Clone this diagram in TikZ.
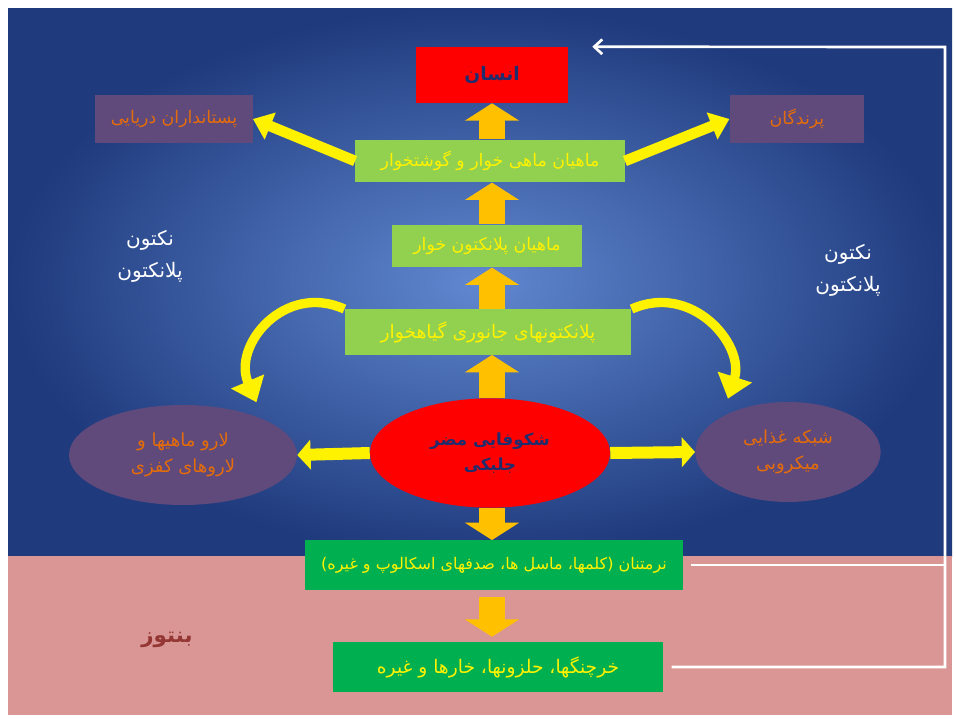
\documentclass[tikz,border=0pt]{standalone}
\usepackage{fontspec}
\usepackage{xcolor}
\usepackage{tikz}
\usetikzlibrary{shapes.geometric,arrows.meta}

\TeXXeTstate=1
\newfontfamily\farsi[Script=Arabic]{DejaVu Sans}
\newcommand{\fa}[1]{{\farsi\beginR #1\endR}}

\definecolor{navy}{HTML}{1F3A7D}
\definecolor{skyblue}{HTML}{6088D0}
\definecolor{rose}{HTML}{D99694}
\definecolor{plum}{HTML}{604A7B}
\definecolor{tangerine}{HTML}{E46C0A}
\definecolor{leaf}{HTML}{92D050}
\definecolor{grass}{HTML}{00B050}
\definecolor{amber}{HTML}{FFC000}
\definecolor{ink}{HTML}{1F2D6E}
\definecolor{brick}{HTML}{943634}

\tikzset{
	level/.style={rectangle, inner sep=0pt, fill=leaf, text=yellow, font=\fontsize{13}{15}\selectfont},
	benthic/.style={level, fill=grass},
	apex/.style={rectangle, inner sep=0pt, fill=red, text=ink, font=\bfseries\fontsize{14}{16}\selectfont},
	consumer/.style={rectangle, inner sep=0pt, fill=plum, text=tangerine, font=\fontsize{13}{15}\selectfont},
	blob/.style={ellipse, inner sep=0pt, fill=plum, text=tangerine, align=center, font=\fontsize{13.5}{20}\selectfont},
	note/.style={text=white, align=center, font=\fontsize{15}{24}\selectfont},
	uparrow/.style={draw=amber, line width=20pt, -{Triangle[length=13pt,width=40pt]}},
	sidearrow/.style={draw=yellow, line width=8pt, -{Triangle[length=14pt,width=21pt]}},
	wideside/.style={draw=yellow, line width=9pt, -{Triangle[length=10pt,width=22pt]}},
	curvearrow/.style={draw=yellow, line width=7pt, -{Triangle[length=17pt,width=26pt]}, shorten >=14pt},
	backline/.style={draw=white, line width=2pt, shorten <=6pt}
}

\begin{document}
\begin{tikzpicture}[x=0.75pt,y=-0.75pt]
	% background: water column and sea floor
	\fill[white] (0,0) rectangle (956,721);
	\shade[inner color=skyblue, outer color=navy] (8,8) rectangle (952,556);
	\fill[rose] (8,556) rectangle (952,715);

	% food chain
	\node[apex, minimum width=114pt, minimum height=42pt] (ensan) at (492,75) {\fa{انسان}};
	\node[consumer, minimum width=118pt, minimum height=36pt] (mammal) at (174,119) {\fa{پستانداران دریایی}};
	\node[consumer, minimum width=101pt, minimum height=36pt] (bird) at (797,119) {\fa{پرندگان}};
	\node[level, minimum width=202pt, minimum height=32pt] (carniv) at (490,161) {\fa{ماهیان ماهی خوار و گوشتخوار}};
	\node[level, minimum width=142pt, minimum height=32pt] (planktiv) at (487,246) {\fa{ماهیان پلانکتون خوار}};
	\node[level, minimum width=215pt, minimum height=34pt, font=\fontsize{14}{16}\selectfont] (zoo) at (488,332) {\fa{پلانکتونهای جانوری گیاهخوار}};
	\node[ellipse, inner sep=0pt, fill=red, text=ink, align=center, font=\bfseries\fontsize{12.5}{19}\selectfont,
		minimum width=180pt, minimum height=82pt] (bloom) at (490,453) {\fa{شکوفایی مضر}\\\fa{جلبکی}};
	\node[blob, minimum width=171pt, minimum height=75pt] (larva) at (183,455) {\fa{لارو ماهیها و}\\\fa{لاروهای کفزی}};
	\node[blob, minimum width=139pt, minimum height=75pt] (microbe) at (788,452) {\fa{شبکه غذایی}\\\fa{میکروبی}};
	\node[benthic, minimum width=283pt, minimum height=37pt, font=\fontsize{12}{14}\selectfont] (mollusc) at (494,565) {\fa{نرمتنان (کلمها، ماسل ها، صدفهای اسکالوپ و غیره)}};
	\node[benthic, minimum width=248pt, minimum height=37pt, font=\fontsize{14}{16}\selectfont] (crab) at (498,667) {\fa{خرچنگها، حلزونها، خارها و غیره}};

	% zones
	\node[note] (nektonL) at (150,256) {\fa{نکتون}\\\fa{پلانکتون}};
	\node[note] (nektonR) at (848,270) {\fa{نکتون}\\\fa{پلانکتون}};
	\node[text=brick, font=\bfseries\fontsize{16}{18}\selectfont] (benthos) at (167,640) {\fa{بنتوز}};

	% arrows
	\draw[uparrow] (ensan.south |- carniv.north) -- (ensan.south);
	\draw[uparrow] (ensan.south |- planktiv.north) -- (ensan.south |- carniv.south);
	\draw[uparrow] (ensan.south |- zoo.north) -- (ensan.south |- planktiv.south);
	\draw[uparrow] (ensan.south |- bloom.north) -- (ensan.south |- zoo.south);
	\draw[uparrow] (ensan.south |- bloom.south) -- (ensan.south |- mollusc.north);
	\draw[uparrow, shorten <=5pt, shorten >=4pt] (ensan.south |- mollusc.south) -- (ensan.south |- crab.north);

	\draw[sidearrow] (carniv.west) -- (mammal.east);
	\draw[sidearrow] (carniv.east) -- (bird.west);
	\draw[wideside] (bloom.west) -- (larva.east);
	\draw[wideside] (bloom.east) -- (microbe.west);

	\draw[curvearrow] (zoo.north west) .. controls (285,282) and (232,345) .. (larva.north east);
	\draw[curvearrow] (zoo.north east) .. controls (692,282) and (745,345) .. (microbe.north west);

	\coordinate (corner) at (945,47);
	\draw[backline, -{Straight Barb[length=6pt,width=11pt]}, shorten >=18pt] (crab.east) -| (corner) -- (ensan.north east);
	\draw[backline] (mollusc.east) -- (mollusc.east -| corner);
\end{tikzpicture}
\end{document}
